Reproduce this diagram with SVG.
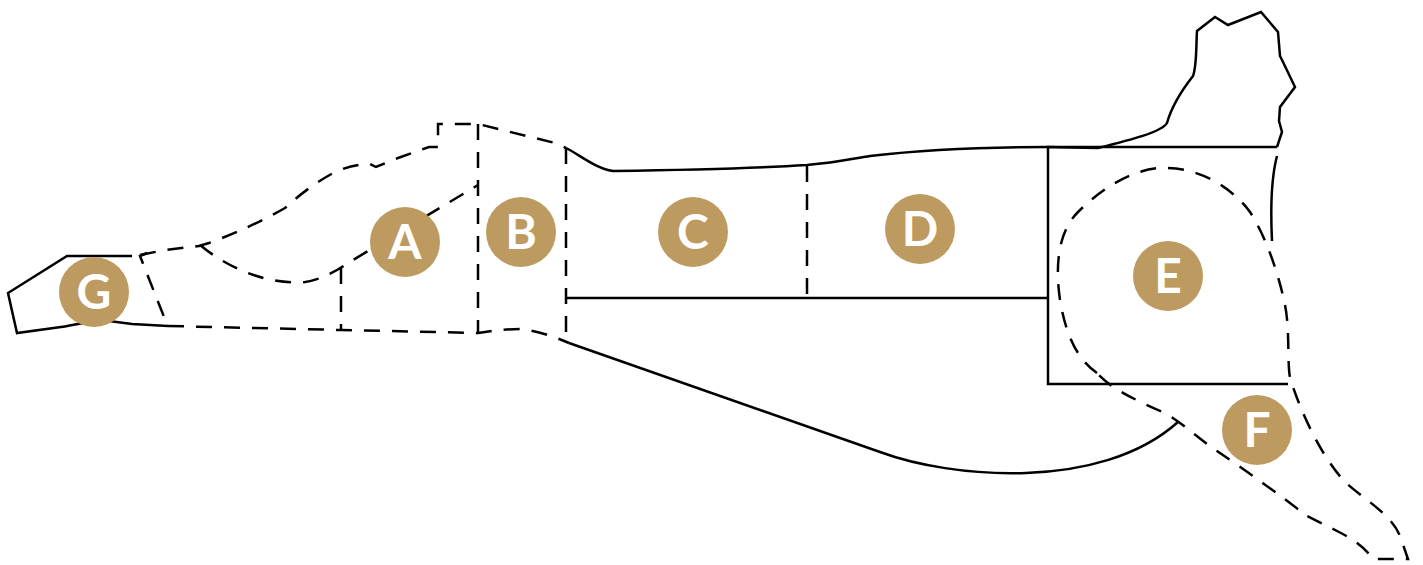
<svg xmlns="http://www.w3.org/2000/svg" width="1423" height="565" viewBox="0 0 1423 565">
  <style>
    .solid { fill: none; stroke: #000; stroke-width: 2.5; stroke-linejoin: miter; }
    .dash { fill: none; stroke: #000; stroke-width: 2.5; stroke-dasharray: 16 12; }
    .badge circle { fill: #BD9A5F; }
    .badge text { fill: #fff; font-family: "Lato", "Liberation Sans", sans-serif; font-weight: 700; font-size: 48px; text-anchor: middle; }
  </style>

  <!-- cut outlines -->
  <g id="connectors">
    <!-- solid outlines -->
    <path class="solid" d="M132,256 L67,256 L8,293 L17,333 L61,327 C75,325 90,320 109,321 L132,324 L168,326"/>
    <path class="solid" d="M566,148 C580,155 595,168 613,171 C680,170 760,168 807,165 C840,162 855,158 870,156 C920,150 980,147 1047,147 L1098,148"/>
    <path class="solid" d="M1098,148 C1130,140 1162,132 1167,123 C1172,105 1182,90 1193,76 C1197,65 1196,45 1197,31 L1215,17 L1228,25 L1261,12 L1278,32 L1280,56 L1283,62 L1295,87 L1280,107 L1279,121 L1282,132 L1277,147"/>
    <path class="solid" d="M1277,147 L1048,147 L1048,384 L1288,384"/>
    <path class="solid" d="M566,298 L1048,298"/>
    <path class="solid" d="M1277,156 C1272,175 1270,200 1272,241"/>
    <path class="solid" d="M569,343 L880,452 C950,478 1100,492 1178,422"/>

    <!-- dashed outlines -->
    <path class="dash" d="M147,253 L140,256 L168,327"/>
    <path class="dash" d="M140,255 L165,250 L199,246 L209,243 Q250,228 285,208 Q310,185 337,171 Q355,164 370,164 L376,167 L398,158 L429,147 L438,147 L438,124 L478,124 L555,143 L566,148"/>
    <path class="dash" d="M200,245 C230,270 270,285 305,282 C320,280 335,272 348,263 L478,185"/>
    <path class="dash" d="M341,268 L341,330"/>
    <path class="dash" d="M478,124 L478,333"/>
    <path class="dash" d="M168,326 L341,330 L478,333 C490,331 505,329 520,329 C535,330 555,337 569,343"/>
    <path class="dash" d="M566,148 L566,342"/>
    <path class="dash" d="M807,166 L807,298"/>
    <path class="dash" d="M1097,373 C1075,358 1065,330 1060,300 C1055,265 1058,232 1078,212 C1100,190 1130,170 1160,168 C1195,166 1230,185 1250,212 C1268,240 1280,280 1285,305 C1290,330 1287,360 1290,378 C1300,410 1320,455 1345,482 C1365,500 1392,515 1400,536 L1408,559 L1373,559 C1365,548 1355,540 1337,531 L1307,516 C1280,495 1245,470 1217,451 C1200,440 1185,425 1165,413 C1135,400 1110,388 1097,373 Z"/>
  </g>

  <!-- lettered badges -->
  <g id="node-a" class="badge"><circle cx="405" cy="242" r="35"/><text x="405" y="259">A</text></g>
  <g id="node-b" class="badge"><circle cx="521" cy="232" r="35"/><text x="521" y="249">B</text></g>
  <g id="node-c" class="badge"><circle cx="693" cy="232" r="35"/><text x="693" y="249">C</text></g>
  <g id="node-d" class="badge"><circle cx="920" cy="229" r="35"/><text x="920" y="246">D</text></g>
  <g id="node-e" class="badge"><circle cx="1168" cy="276" r="35"/><text x="1168" y="293">E</text></g>
  <g id="node-f" class="badge"><circle cx="1257" cy="430" r="35"/><text x="1257" y="447">F</text></g>
  <g id="node-g" class="badge"><circle cx="94" cy="292" r="35"/><text x="94" y="309">G</text></g>
</svg>
